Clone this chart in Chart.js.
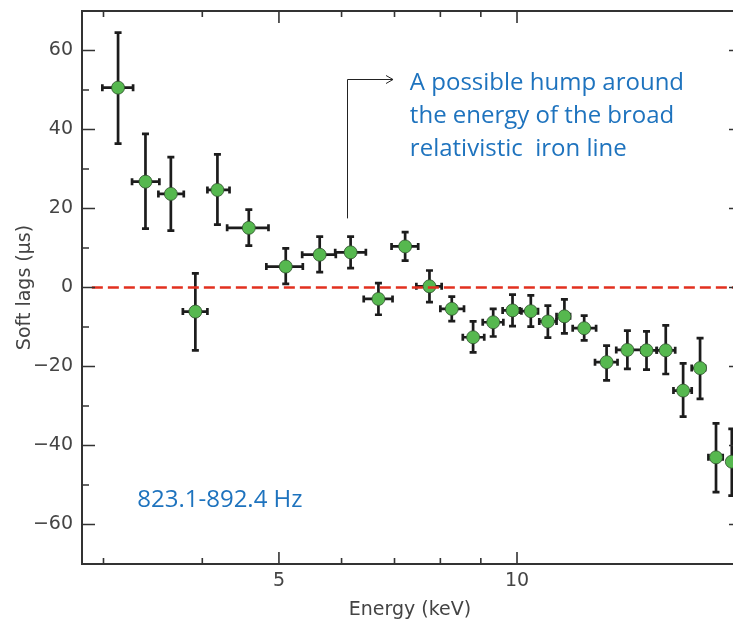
<!DOCTYPE html>
<html><head><meta charset="utf-8">
<script src="https://cdn.jsdelivr.net/npm/chart.js@4.4.1/dist/chart.umd.min.js"></script>
<style>
html,body{margin:0;padding:0;background:#fff;overflow:hidden}
#wrap{width:733px;height:622px;overflow:hidden;position:relative;background:#fff}
canvas{display:block}
</style>
</head><body>
<div id="wrap"><canvas id="c" width="748" height="622" style="width:748px;height:622px"></canvas></div>
<script>
// ---- data ----
const energy   = [3.13, 3.39, 3.65, 3.92, 4.18, 4.58, 5.10, 5.63, 6.16, 6.68, 7.22, 7.75, 8.27, 8.80, 9.33, 9.87, 10.41, 10.94, 11.48, 12.16, 12.98, 13.79, 14.58, 15.42, 16.22, 17.04, 17.85, 18.69];
const energyLo = [2.99, 3.26, 3.52, 3.78, 4.06, 4.30, 4.82, 5.35, 5.89, 6.40, 6.94, 7.46, 8.00, 8.54, 9.05, 9.59, 10.13, 10.67, 11.22, 11.76, 12.55, 13.35, 14.37, 15.02, 15.77, 16.63, 17.46, 18.50];
const energyHi = [3.27, 3.53, 3.79, 4.06, 4.33, 4.85, 5.36, 5.90, 6.44, 6.96, 7.50, 8.03, 8.57, 9.09, 9.61, 10.08, 10.63, 11.22, 11.67, 12.59, 13.40, 14.37, 15.02, 15.85, 16.63, 17.29, 18.20, 19.20];
const lag      = [50.6, 26.8, 23.7, -6.1, 24.7, 15.1, 5.3, 8.3, 8.9, -2.9, 10.4, 0.3, -5.4, -12.6, -8.8, -5.8, -6.0, -8.6, -7.3, -10.3, -18.9, -15.8, -15.9, -15.9, -26.1, -20.4, -43.0, -44.1];
const lagHi    = [64.5, 38.9, 33.0, 3.6, 33.7, 19.7, 9.9, 12.9, 12.9, 1.1, 14.0, 4.3, -2.3, -8.6, -5.4, -1.8, -2.0, -4.6, -3.0, -7.1, -14.7, -10.9, -11.1, -9.6, -19.2, -12.8, -34.4, -35.8];
const lagLo    = [36.4, 14.9, 14.4, -15.9, 15.9, 10.6, 0.9, 3.9, 4.9, -6.9, 6.8, -3.7, -8.5, -16.4, -12.4, -9.8, -9.9, -12.7, -11.6, -13.4, -23.5, -20.6, -20.8, -21.9, -32.7, -28.2, -51.8, -52.7];

const xMajorTicks = [5, 10];
const xMinorTicks = [3, 4, 6, 7, 8, 9];
const yMajorTicks = [-60, -40, -20, 0, 20, 40, 60];
const yMinorTicks = [-50, -30, -10, 10, 30, 50];
const xRange = [2.818, 19.03];
const yRange = [-70, 70];
const zeroLineX = [2.9, 19.03];

const xTitle = "Energy (keV)";
const yTitle = "Soft lags (\u03bcs)";
const noteLines = ["A possible hump around", "the energy of the broad", "relativistic  iron line"];
const noteAnchor = {x: 7.32, y: 50.0};
const arrowPath = {x: 6.09, yBottom: 17.5, yTop: 52.9, xHead: 6.97};
const freqLabel = "823.1-892.4 Hz";
const freqAnchor = {x: 3.31, y: -53.8};

const points = energy.map((e, i) => ({x: e, y: lag[i]}));

const AXIS = '#333';
const BLUE = '#1e73be';

const overlay = {
  id: 'overlay',
  beforeDatasetsDraw(chart) {
    const {ctx, chartArea: a, scales: {x, y}} = chart;
    ctx.save();
    ctx.beginPath(); ctx.rect(a.left, a.top, a.right - a.left, a.bottom - a.top); ctx.clip();
    ctx.strokeStyle = '#1c1c1c';
    ctx.lineWidth = 2.7;
    ctx.lineCap = 'butt';
    const cap = 3.5;
    for (let i = 0; i < energy.length; i++) {
      const px = x.getPixelForValue(energy[i]);
      const py = y.getPixelForValue(lag[i]);
      const x0 = x.getPixelForValue(energyLo[i]);
      const x1 = x.getPixelForValue(energyHi[i]);
      const y0 = y.getPixelForValue(lagLo[i]);
      const y1 = y.getPixelForValue(lagHi[i]);
      ctx.beginPath();
      ctx.moveTo(px, y0); ctx.lineTo(px, y1);
      ctx.moveTo(px - cap, y0); ctx.lineTo(px + cap, y0);
      ctx.moveTo(px - cap, y1); ctx.lineTo(px + cap, y1);
      ctx.moveTo(x0, py); ctx.lineTo(x1, py);
      ctx.moveTo(x0, py - cap); ctx.lineTo(x0, py + cap);
      ctx.moveTo(x1, py - cap); ctx.lineTo(x1, py + cap);
      ctx.stroke();
    }
    ctx.restore();
  },
  afterDraw(chart) {
    const {ctx, chartArea: a, scales: {x, y}} = chart;
    ctx.save();
    ctx.strokeStyle = AXIS;
    ctx.lineWidth = 2;
    ctx.strokeRect(a.left, a.top, a.right - a.left, a.bottom - a.top);
    ctx.lineWidth = 1.6;
    ctx.beginPath();
    xMajorTicks.forEach(v => { const p = x.getPixelForValue(v);
      ctx.moveTo(p, a.bottom); ctx.lineTo(p, a.bottom - 12);
      ctx.moveTo(p, a.top); ctx.lineTo(p, a.top + 12); });
    xMinorTicks.forEach(v => { const p = x.getPixelForValue(v);
      ctx.moveTo(p, a.bottom); ctx.lineTo(p, a.bottom - 6);
      ctx.moveTo(p, a.top); ctx.lineTo(p, a.top + 6); });
    yMajorTicks.forEach(v => { const p = y.getPixelForValue(v);
      ctx.moveTo(a.left, p); ctx.lineTo(a.left + 13, p);
      ctx.moveTo(a.right, p); ctx.lineTo(a.right - 9, p); });
    yMinorTicks.forEach(v => { const p = y.getPixelForValue(v);
      ctx.moveTo(a.left, p); ctx.lineTo(a.left + 7, p);
      ctx.moveTo(a.right, p); ctx.lineTo(a.right - 5, p); });
    ctx.stroke();
    ctx.strokeStyle = '#222';
    ctx.lineWidth = 1;
    const ax = Math.round(x.getPixelForValue(arrowPath.x)) + 0.5;
    const ayB = y.getPixelForValue(arrowPath.yBottom);
    const ayT = Math.round(y.getPixelForValue(arrowPath.yTop)) + 0.5;
    const ah = x.getPixelForValue(arrowPath.xHead);
    ctx.beginPath();
    ctx.moveTo(ax, ayB); ctx.lineTo(ax, ayT); ctx.lineTo(ah, ayT);
    ctx.moveTo(ah - 7, ayT - 4); ctx.lineTo(ah, ayT); ctx.lineTo(ah - 7, ayT + 4);
    ctx.stroke();
    ctx.fillStyle = BLUE;
    ctx.font = '24px "Open Sans"';
    ctx.textAlign = 'left';
    ctx.textBaseline = 'alphabetic';
    const tx = x.getPixelForValue(noteAnchor.x);
    const ty = y.getPixelForValue(noteAnchor.y);
    noteLines.forEach((t, i) => ctx.fillText(t, tx, ty + i * 33));
    ctx.textBaseline = 'middle';
    ctx.fillText(freqLabel, x.getPixelForValue(freqAnchor.x), y.getPixelForValue(freqAnchor.y));
    ctx.restore();
  }
};

new Chart(document.getElementById('c'), {
  type: 'scatter',
  data: {
    datasets: [
      {
        type: 'line',
        data: zeroLineX.map(v => ({x: v, y: 0})),
        borderColor: '#e2301f',
        borderWidth: 2.5,
        borderDash: [11, 5],
        pointRadius: 0,
        fill: false,
        order: 0
      },
      {
        data: points,
        pointRadius: 6.5,
        pointBackgroundColor: '#56b84f',
        pointBorderColor: '#2f4f2c',
        pointBorderWidth: 0.8,
        order: 1
      }
    ]
  },
  options: {
    responsive: false,
    animation: false,
    devicePixelRatio: 1,
    layout: {padding: {left: 0, top: 11, right: 10, bottom: 0}},
    plugins: {legend: {display: false}, tooltip: {enabled: false}},
    scales: {
      x: {
        type: 'logarithmic',
        min: xRange[0], max: xRange[1],
        grid: {display: false, drawTicks: false, tickLength: 0},
        border: {display: false},
        afterBuildTicks: s => { s.ticks = xMajorTicks.map(v => ({value: v})); },
        afterFit: s => { s.height = 58; s.paddingLeft = 0; s.paddingRight = 0; },
        ticks: {
          callback: v => String(v),
          autoSkip: false, maxRotation: 0,
          padding: 6,
          color: '#444',
          font: {family: 'DejaVu Sans', size: 19}
        },
        title: {display: true, text: xTitle, color: '#444',
          font: {family: 'DejaVu Sans', size: 19}, padding: {top: 0, bottom: 1}}
      },
      y: {
        type: 'linear',
        min: yRange[0], max: yRange[1],
        grid: {display: false, drawTicks: false, tickLength: 0},
        border: {display: false},
        afterBuildTicks: s => { s.ticks = yMajorTicks.map(v => ({value: v})); },
        afterFit: s => { s.width = 82; s.paddingTop = 0; s.paddingBottom = 0; },
        ticks: {
          callback: v => String(v).replace('-', '\u2212'),
          padding: 9,
          color: '#444',
          font: {family: 'DejaVu Sans', size: 19}
        },
        title: {display: true, text: yTitle, color: '#444',
          font: {family: 'DejaVu Sans', size: 19}, padding: {top: 14, bottom: 0}}
      }
    }
  },
  plugins: [overlay]
});
</script>
</body></html>
